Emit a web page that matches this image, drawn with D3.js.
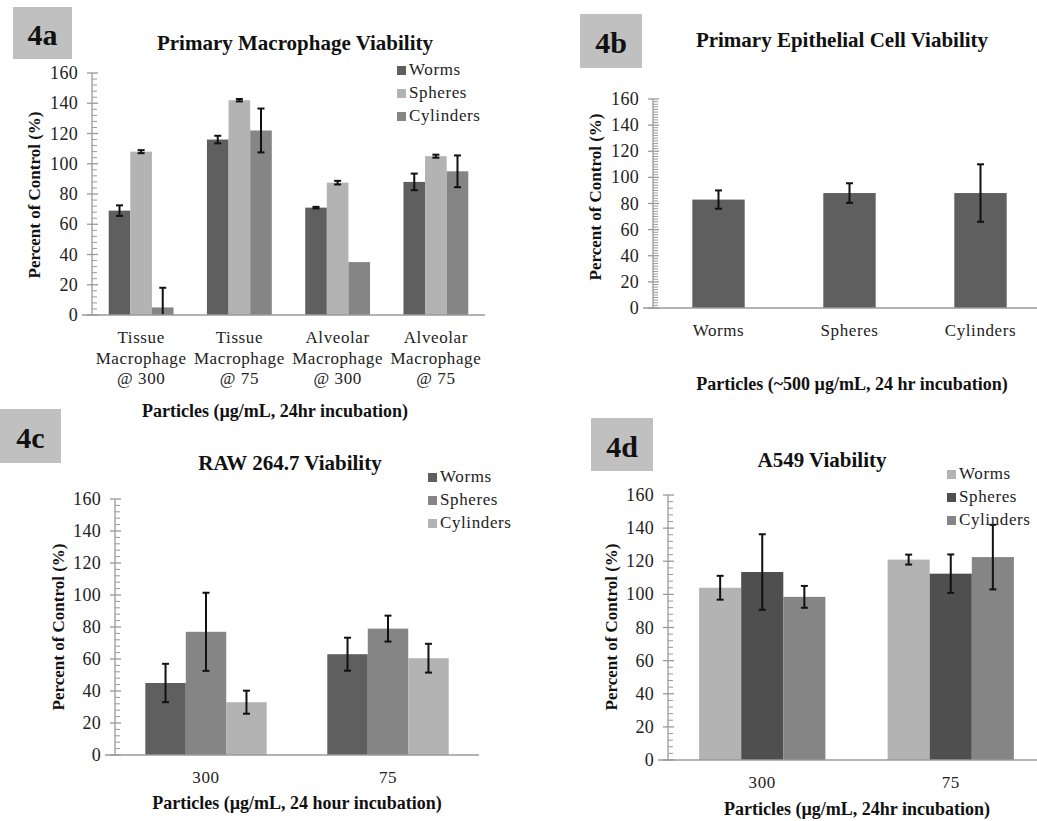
<!DOCTYPE html>
<html><head><meta charset="utf-8">
<script src="https://cdn.jsdelivr.net/npm/d3@7"></script>
<style>body{margin:0;background:#fff}svg{display:block}</style>
</head><body>
<svg id="c" width="1037" height="821" font-family="'Liberation Serif', 'Times New Roman', Tinos, 'DejaVu Serif', serif"></svg>
<script>
// ---------- data ----------
const seriesNames = ["Worms", "Spheres", "Cylinders"];
const yTicks = [0, 20, 40, 60, 80, 100, 120, 140, 160];

// 4a Primary Macrophage
const aCategories = [["Tissue", "Macrophage", "@ 300"], ["Tissue", "Macrophage", "@ 75"], ["Alveolar", "Macrophage", "@ 300"], ["Alveolar", "Macrophage", "@ 75"]];
const aWorms = [69, 116, 71, 88];
const aWormsErr = [3.5, 2.5, 0.5, 5.5];
const aSpheres = [108, 142, 87.5, 105];
const aSpheresErr = [1, 0.8, 1.2, 1];
const aCylinders = [5, 122, 35, 95];
const aCylindersErr = [13, 14.5, 0, 10.5];

// 4b Primary Epithelial
const bCategories = ["Worms", "Spheres", "Cylinders"];
const bValues = [83, 88, 88];
const bErr = [7, 7.5, 22];

// 4c RAW 264.7
const cCategories = ["300", "75"];
const cWorms = [45, 63];
const cWormsErr = [12, 10.3];
const cSpheres = [77, 79];
const cSpheresErr = [24.4, 8.1];
const cCylinders = [33, 60.5];
const cCylindersErr = [7.2, 9];

// 4d A549
const dCategories = ["300", "75"];
const dWorms = [104, 121];
const dWormsErr = [7.2, 3];
const dSpheres = [113.5, 112.5];
const dSpheresErr = [22.8, 11.6];
const dCylinders = [98.5, 122.5];
const dCylindersErr = [6.6, 19.5];

// ---------- drawing ----------
const FONT = "'Liberation Serif', 'Times New Roman', Tinos, 'DejaVu Serif', serif";
const svg = d3.select("#c");

function txt(g) { return g.append("text").attr("font-family", FONT); }

function panel(cfg) {
  const g = svg.append("g");
  const y = d3.scaleLinear().domain([0, 160]).range([cfg.y0, cfg.y1]);
  const x0 = d3.scaleBand().domain(d3.range(cfg.cats.length)).range([cfg.xl, cfg.xr])
    .paddingInner(cfg.pad).paddingOuter(cfg.pad / 2);
  const x1 = d3.scaleBand().domain(d3.range(cfg.series.length)).range([0, x0.bandwidth()]);

  // label box
  g.append("rect").attr("x", cfg.box[0]).attr("y", cfg.box[1]).attr("width", cfg.box[2]).attr("height", cfg.box[3]).attr("fill", "#c0c0c0");
  txt(g).attr("x", cfg.box[0] + cfg.box[2] / 2).attr("y", cfg.box[1] + cfg.box[3] * 0.73)
    .attr("text-anchor", "middle").attr("font-size", 30).attr("font-weight", "bold").attr("fill", "#111").text(cfg.tag);

  // title
  txt(g).attr("x", cfg.title[1]).attr("y", cfg.title[2]).attr("text-anchor", "middle")
    .attr("font-size", 21).attr("font-weight", "bold").attr("fill", "#111").text(cfg.title[0]);

  // bars
  cfg.series.forEach((s, si) => {
    g.selectAll(null).data(s.values).enter().append("rect")
      .attr("x", (d, i) => x0(i) + x1(si)).attr("width", x1.bandwidth())
      .attr("y", d => y(d)).attr("height", d => y(0) - y(d)).attr("fill", s.color);
  });
  // error bars
  cfg.series.forEach((s, si) => {
    s.values.forEach((v, i) => {
      const e = s.err[i];
      if (!e) return;
      const cx = x0(i) + x1(si) + x1.bandwidth() / 2;
      const lo = Math.max(0, v - e), hi = v + e;
      g.append("line").attr("x1", cx).attr("x2", cx).attr("y1", y(lo)).attr("y2", y(hi)).attr("stroke", "#111").attr("stroke-width", 2);
      [lo, hi].forEach(t => {
        if (t === 0) return;
        g.append("line").attr("x1", cx - 3.5).attr("x2", cx + 3.5).attr("y1", y(t)).attr("y2", y(t)).attr("stroke", "#111").attr("stroke-width", 2);
      });
    });
  });

  // axes
  const axisColor = "#9a9a9a";
  g.append("line").attr("x1", cfg.xl).attr("x2", cfg.xl).attr("y1", y(0)).attr("y2", y(160)).attr("stroke", axisColor).attr("stroke-width", 1.3);
  g.append("line").attr("x1", cfg.xl - 10).attr("x2", cfg.xr).attr("y1", y(0)).attr("y2", y(0)).attr("stroke", axisColor).attr("stroke-width", 1.3);
  const minors = d3.range(0, 160.001, cfg.minor).filter(t => t % 20 !== 0);
  g.selectAll(null).data(minors).enter().append("line")
    .attr("x1", cfg.xl).attr("x2", cfg.xl + 5).attr("y1", d => y(d)).attr("y2", d => y(d)).attr("stroke", axisColor).attr("stroke-width", 1);
  g.selectAll(null).data(yTicks).enter().append("line")
    .attr("x1", cfg.xl - 5).attr("x2", cfg.xl + 6).attr("y1", d => y(d)).attr("y2", d => y(d)).attr("stroke", axisColor).attr("stroke-width", 1.3);
  g.selectAll(null).data(yTicks).enter().append("text").attr("font-family", FONT)
    .attr("x", cfg.xl - 14).attr("y", d => y(d) + 6).attr("text-anchor", "end")
    .attr("font-size", 18).attr("fill", "#222").attr("letter-spacing", 0.3).text(d => d);

  // y title
  txt(g).attr("transform", `translate(${cfg.ytitle[0]},${cfg.ytitle[1]}) rotate(-90)`)
    .attr("text-anchor", "middle").attr("font-size", 17).attr("font-weight", "bold").attr("fill", "#111").text("Percent of Control (%)");

  // x category labels
  cfg.cats.forEach((c, i) => {
    const lines = Array.isArray(c) ? c : [c];
    lines.forEach((ln, li) => {
      txt(g).attr("x", x0(i) + x0.bandwidth() / 2).attr("y", cfg.xlabY + li * 20.5)
        .attr("text-anchor", "middle").attr("font-size", 17).attr("letter-spacing", 0.6).attr("fill", "#222").text(ln);
    });
  });
  // x title
  txt(g).attr("x", cfg.xtitle[1]).attr("y", cfg.xtitle[2]).attr("text-anchor", "middle")
    .attr("font-size", 18).attr("font-weight", "bold").attr("fill", "#111").text(cfg.xtitle[0]);

  // legend
  if (cfg.legend) {
    cfg.series.forEach((s, si) => {
      const by = cfg.legend[1] + si * 23;
      g.append("rect").attr("x", cfg.legend[0]).attr("y", by - 9).attr("width", 9).attr("height", 9).attr("fill", s.color);
      txt(g).attr("x", cfg.legend[0] + 12).attr("y", by).attr("font-size", 17).attr("letter-spacing", 0.6).attr("fill", "#222").text(seriesNames[si]);
    });
  }
}

const dark = "#5f5f5f", mid = "#858585", light = "#b3b3b3", darker = "#4f4f4f";

panel({
  tag: "4a", box: [13, 7, 59, 52],
  title: ["Primary Macrophage Viability", 295, 50],
  y0: 315, y1: 73, xl: 92, xr: 485, pad: 0.34, minor: 4,
  cats: aCategories,
  series: [
    {values: aWorms, err: aWormsErr, color: dark},
    {values: aSpheres, err: aSpheresErr, color: light},
    {values: aCylinders, err: aCylindersErr, color: mid}],
  ytitle: [40, 195], xlabY: 343, xtitle: ["Particles (\u00b5g/mL, 24hr incubation)", 275, 417],
  legend: [397, 75]
});

panel({
  tag: "4b", box: [580, 14, 62, 54],
  title: ["Primary Epithelial Cell Viability", 842, 47],
  y0: 308, y1: 99, xl: 653, xr: 1046, pad: 0.6, minor: 2,
  cats: bCategories,
  series: [{values: bValues, err: bErr, color: dark}],
  ytitle: [601, 197], xlabY: 336, xtitle: ["Particles (~500 \u00b5g/mL, 24 hr incubation)", 852, 390],
  legend: null
});

panel({
  tag: "4c", box: [0, 409, 61, 54],
  title: ["RAW 264.7 Viability", 290, 470],
  y0: 755, y1: 499, xl: 115, xr: 479, pad: 0.333, minor: 4,
  cats: cCategories,
  series: [
    {values: cWorms, err: cWormsErr, color: dark},
    {values: cSpheres, err: cSpheresErr, color: mid},
    {values: cCylinders, err: cCylindersErr, color: light}],
  ytitle: [64, 627], xlabY: 783, xtitle: ["Particles (\u00b5g/mL, 24 hour incubation)", 297, 809],
  legend: [428, 482]
});

panel({
  tag: "4d", box: [591, 418, 62, 53],
  title: ["A549 Viability", 822, 467],
  y0: 760, y1: 495, xl: 668, xr: 1045, pad: 0.33, minor: 4,
  cats: dCategories,
  series: [
    {values: dWorms, err: dWormsErr, color: light},
    {values: dSpheres, err: dSpheresErr, color: darker},
    {values: dCylinders, err: dCylindersErr, color: mid}],
  ytitle: [617, 627], xlabY: 788, xtitle: ["Particles (\u00b5g/mL, 24hr incubation)", 857, 815],
  legend: [947, 479]
});
</script>
</body></html>
